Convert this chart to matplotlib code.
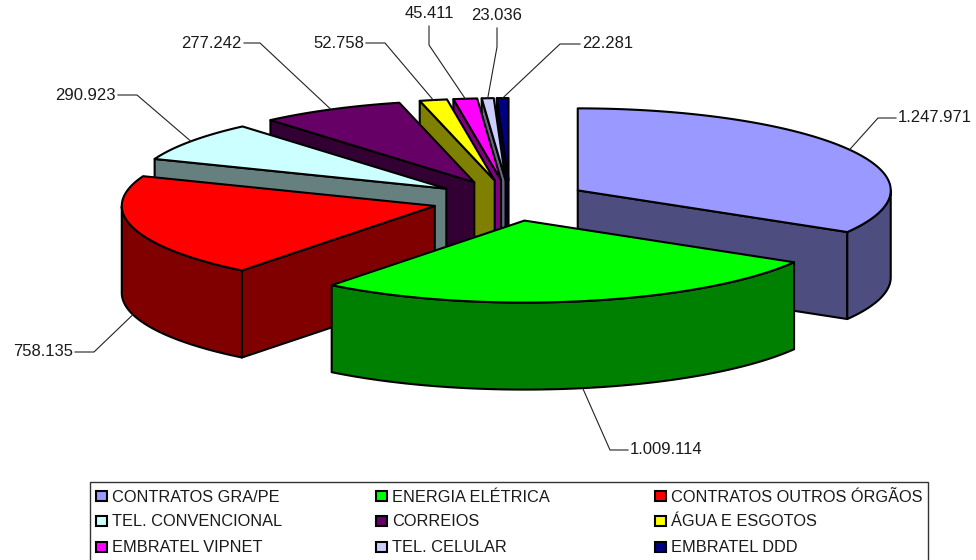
import numpy as np
import matplotlib
matplotlib.use('Agg')
import matplotlib.pyplot as plt
from matplotlib.patches import Polygon, Rectangle

plt.rcParams['font.family'] = ['Liberation Sans', 'DejaVu Sans']

categorias = ['CONTRATOS GRA/PE', 'ENERGIA ELÉTRICA', 'CONTRATOS OUTROS ÓRGÃOS',
              'TEL. CONVENCIONAL', 'CORREIOS', 'ÁGUA E ESGOTOS',
              'EMBRATEL VIPNET', 'TEL. CELULAR', 'EMBRATEL DDD']
valores = [1247971, 1009114, 758135, 290923, 277242, 52758, 45411, 23036, 22281]
rotulos = ['1.247.971', '1.009.114', '758.135', '290.923', '277.242',
           '52.758', '45.411', '23.036', '22.281']
cores = ['#9999FF', '#00FF00', '#FF0000', '#CCFFFF', '#660066',
         '#FFFF00', '#FF00FF', '#CCCCFF', '#000080']

# geometria da pizza, em pixels
CX, CY = 510, 200.5
RX, RY = 313, 82
ALTURA = 87
EXPLODE = 78

# cotovelo da linha e posicao do texto de cada rotulo
cotovelos = [(878, 118), (610, 450), (94, 352), (137, 95), (260, 43),
             (385, 43), (429, 45), (497, 47), (560, 44)]
pontas = [(896, 118), (628, 450), (75, 352), (118, 95), (244, 43),
          (366, 43), (429, 26), (497, 28), (580, 44)]
alinha = [('left', 'center'), ('left', 'center'), ('right', 'center'),
          ('right', 'center'), ('right', 'center'), ('right', 'center'),
          ('center', 'bottom'), ('center', 'bottom'), ('left', 'center')]


def ponto(cx, cy, ang):
    return cx + RX * np.sin(ang), cy - RY * np.cos(ang)


def escurecer(cor):
    return tuple(c * 0.5 for c in matplotlib.colors.to_rgb(cor))


fig = plt.figure(figsize=(9.76, 5.6), dpi=100)
ax = fig.add_axes([0, 0, 1, 1])
ax.set_xlim(0, 976)
ax.set_ylim(560, 0)
ax.axis('off')

fatias = []
acum = np.cumsum([0] + valores) / sum(valores) * 2 * np.pi
for i in range(len(valores)):
    a0, a1 = acum[i], acum[i + 1]
    meio = (a0 + a1) / 2
    cx = CX + EXPLODE * np.sin(meio)
    cy = CY - EXPLODE * RY / RX * np.cos(meio)
    fatias.append((cy, i, a0, a1, meio, cx))

# pinta de tras para frente
for cy, i, a0, a1, meio, cx in sorted(fatias):
    angs = np.linspace(a0, a1, 120)
    xs, ys = ponto(cx, cy, angs)
    topo = list(zip(xs, ys))
    escuro = escurecer(cores[i])

    # faces radiais visiveis
    for p, q in [((cx, cy), topo[0]), (topo[-1], (cx, cy))]:
        if q[0] - p[0] < 0:
            ax.add_patch(Polygon([p, q, (q[0], q[1] + ALTURA), (p[0], p[1] + ALTURA)],
                                 fc=escuro, ec='black', lw=1.5, joinstyle='round'))

    # parede externa, so a parte da frente
    frente = (angs >= np.pi / 2) & (angs <= 3 * np.pi / 2)
    if frente.any():
        fx, fy = xs[frente], ys[frente]
        parede = list(zip(fx, fy)) + list(zip(fx[::-1], fy[::-1] + ALTURA))
        ax.add_patch(Polygon(parede, fc=escuro, ec='black', lw=1.5, joinstyle='round'))

    ax.add_patch(Polygon([(cx, cy)] + topo, fc=cores[i], ec='black', lw=1.5, joinstyle='round'))

# rotulos com linha de chamada
for cy, i, a0, a1, meio, cx in fatias:
    px, py = ponto(cx, cy, meio)
    if np.pi / 2 < meio < 3 * np.pi / 2:
        py += ALTURA
    ex, ey = cotovelos[i]
    tx, ty = pontas[i]
    ax.plot([px, ex, tx], [py, ey, ty], color='#222222', lw=0.8, zorder=5)
    ha, va = alinha[i]
    off = 2 if ha == 'left' else (-2 if ha == 'right' else 0)
    suba = 5 if va == 'bottom' else 0
    ax.text(tx + off, ty - suba, rotulos[i], ha=ha, va=va, fontsize=12, color='#1a1a1a', zorder=6)

# legenda
ax.add_patch(Rectangle((90, 482), 838, 90, fc='white', ec='#333333', lw=1, zorder=7))
col_x = [96, 376, 655]
lin_y = [497, 522, 548]
for i, nome in enumerate(categorias):
    x = col_x[i % 3]
    y = lin_y[i // 3]
    ax.add_patch(Rectangle((x, y - 6), 11, 10, fc=cores[i], ec='black', lw=1.5, zorder=8))
    ax.text(x + 16, y, nome, ha='left', va='center', fontsize=11.8, color='#1a1a1a', zorder=8)

fig.savefig('out.png', dpi=100)
